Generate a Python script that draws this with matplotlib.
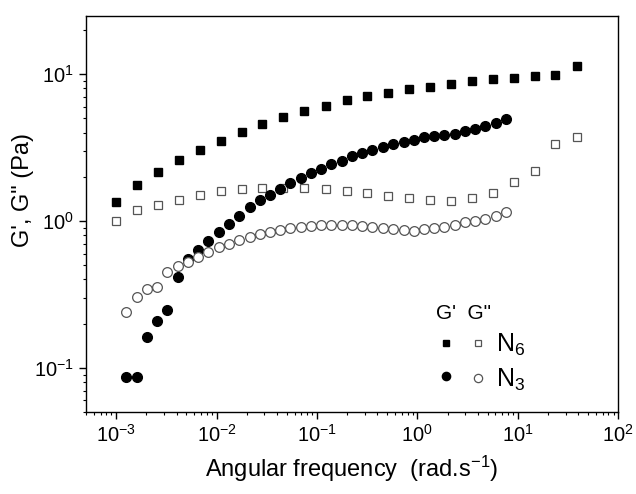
import numpy as np
import matplotlib
matplotlib.use("Agg")
import matplotlib.pyplot as plt

# --- fonts ---
plt.rcParams['font.family'] = ['Liberation Sans', 'DejaVu Sans']
plt.rcParams['mathtext.fontset'] = 'custom'
plt.rcParams['mathtext.rm'] = 'Liberation Sans'
plt.rcParams['mathtext.it'] = 'Liberation Sans:italic'
plt.rcParams['mathtext.bf'] = 'Liberation Sans:bold'
plt.rcParams['axes.unicode_minus'] = False

# --- data (rad/s, Pa) ---
freq_n6 = [0.00100, 0.00163, 0.00262, 0.00421, 0.00687, 0.0111, 0.0179, 0.0286,
           0.0463, 0.0750, 0.122, 0.197, 0.314, 0.515, 0.834, 1.34, 2.16, 3.52,
           5.69, 9.14, 14.7, 23.7, 38.8]
g1_n6 = [1.35, 1.76, 2.16, 2.59, 3.06, 3.52, 4.02, 4.56, 5.11, 5.64, 6.10, 6.65,
         7.08, 7.50, 7.94, 8.24, 8.59, 8.94, 9.22, 9.47, 9.66, 9.88, 11.3]
g2_n6 = [1.00, 1.19, 1.29, 1.40, 1.51, 1.60, 1.65, 1.68, 1.68, 1.68, 1.65, 1.61,
         1.56, 1.49, 1.43, 1.39, 1.37, 1.43, 1.55, 1.83, 2.18, 3.34, 3.71]

freq_n3 = [0.00126, 0.00162, 0.00204, 0.00256, 0.00324, 0.00412, 0.00518, 0.00652,
           0.00824, 0.01054, 0.01334, 0.0169, 0.0215, 0.0272, 0.0344, 0.0433,
           0.0545, 0.0692, 0.0869, 0.110, 0.139, 0.177, 0.224, 0.284, 0.357,
           0.453, 0.578, 0.728, 0.923, 1.17, 1.48, 1.86, 2.37, 2.99, 3.77, 4.76,
           6.05, 7.60]
g1_n3 = [0.0862, 0.0862, 0.161, 0.208, 0.246, 0.413, 0.547, 0.639, 0.731, 0.836,
         0.958, 1.08, 1.25, 1.38, 1.51, 1.64, 1.81, 1.95, 2.14, 2.27, 2.45, 2.57,
         2.77, 2.90, 3.04, 3.20, 3.36, 3.48, 3.59, 3.72, 3.80, 3.84, 3.94, 4.11,
         4.26, 4.44, 4.68, 4.98]
g2_n3 = [0.241, 0.303, 0.344, 0.357, 0.449, 0.493, 0.522, 0.567, 0.612, 0.665,
         0.701, 0.742, 0.782, 0.815, 0.840, 0.863, 0.890, 0.904, 0.922, 0.933,
         0.937, 0.937, 0.937, 0.930, 0.914, 0.900, 0.880, 0.863, 0.853, 0.876,
         0.890, 0.908, 0.937, 0.977, 1.00, 1.04, 1.08, 1.16]

OPEN_EDGE = '#555555'

fig = plt.figure(figsize=(6.36, 4.94), dpi=100)
ax = fig.add_axes([0.135, 0.166, 0.837, 0.802])

h1, = ax.plot(freq_n6, g1_n6, ls='none', marker='s', ms=5.3, mfc='black', mec='black')
h2, = ax.plot(freq_n6, g2_n6, ls='none', marker='s', ms=5.3, mfc='white',
              mec=OPEN_EDGE, mew=0.9)
h3, = ax.plot(freq_n3, g1_n3, ls='none', marker='o', ms=7, mfc='black', mec='black')
h4, = ax.plot(freq_n3, g2_n3, ls='none', marker='o', ms=7, mfc='white',
              mec=OPEN_EDGE, mew=0.9)

ax.set_xscale('log')
ax.set_yscale('log')
ax.set_xlim(5e-4, 100)
ax.set_ylim(0.05, 25)

for s in ax.spines.values():
    s.set_linewidth(1.0)
ax.tick_params(which='both', direction='out', top=False, right=False, labelsize=14.5)
ax.tick_params(which='major', length=5, width=1.0)
ax.tick_params(which='minor', length=2.5, width=0.8)

ax.set_xlabel('Angular frequency  (rad.s$^{-1}$)', fontsize=17, labelpad=6)
ax.set_ylabel('G\', G" (Pa)', fontsize=17)
ax.yaxis.set_label_coords(-0.097, 0.56)

# legend: G' column (filled), G" column (open), sample names on the right
leg = ax.legend(handles=[h1, h3, h2, h4], labels=['', '', 'N$_6$', 'N$_3$'],
                ncol=2, title='G\'  G"', title_fontsize=15, fontsize=18,
                frameon=False, markerscale=0.85, handlelength=0.8,
                handletextpad=0.3, columnspacing=0.2, labelspacing=0.35,
                alignment='left', loc='upper left', bbox_to_anchor=(0.615, 0.33))

fig.savefig('out.png', dpi=100)
